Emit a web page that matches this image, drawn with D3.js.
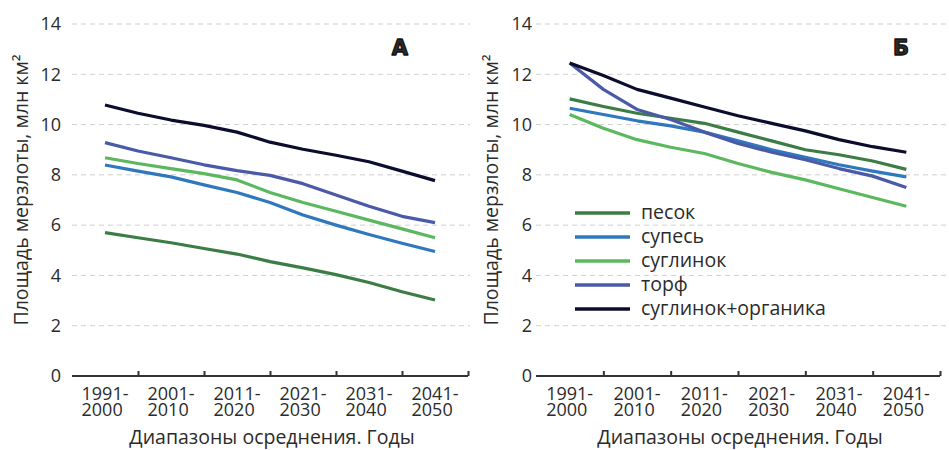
<!DOCTYPE html>
<html>
<head>
<meta charset="utf-8">
<script src="https://cdn.jsdelivr.net/npm/d3@7/dist/d3.min.js"></script>
<style>
  body { margin: 0; background: #fff; }
  text { font-family: "Open Sans", "Noto Sans", sans-serif; fill: #2b2b2b; }
</style>
</head>
<body>
<svg id="chart" width="949" height="450"></svg>
<script>
// Averaging periods (x categories), each label drawn on two lines
const periods = [
  ["1991-", "2000"], ["2001-", "2010"], ["2011-", "2020"],
  ["2021-", "2030"], ["2031-", "2040"], ["2041-", "2050"]
];
// Sample positions along the period axis (in period units, 0 = 1991-2000)
const samplePos = [0, 0.5, 1, 1.5, 2, 2.5, 3, 3.5, 4, 4.5, 5];
const yTicks = [0, 2, 4, 6, 8, 10, 12, 14];

const soils = ["песок", "супесь", "суглинок", "торф", "суглинок+органика"];
const soilColors = ["#3b7d45", "#2f78bd", "#5cb85f", "#4a5aa8", "#0c0c2c"];

// Panel А — permafrost area, mln km²
const aSand      = [5.70, 5.50, 5.30, 5.07, 4.85, 4.55, 4.30, 4.03, 3.72, 3.35, 3.02];
const aSandyLoam = [8.39, 8.15, 7.92, 7.60, 7.30, 6.90, 6.40, 6.00, 5.63, 5.28, 4.95];
const aLoam      = [8.68, 8.45, 8.25, 8.05, 7.80, 7.30, 6.90, 6.55, 6.20, 5.85, 5.50];
const aPeat      = [9.28, 8.95, 8.68, 8.40, 8.17, 7.98, 7.65, 7.20, 6.75, 6.35, 6.10];
const aLoamOrg   = [10.78, 10.45, 10.18, 9.97, 9.70, 9.30, 9.02, 8.78, 8.52, 8.15, 7.77];

// Panel Б — permafrost area, mln km²
const bSand      = [11.02, 10.72, 10.45, 10.25, 10.05, 9.70, 9.35, 9.00, 8.80, 8.55, 8.22];
const bSandyLoam = [10.65, 10.40, 10.15, 9.95, 9.70, 9.35, 9.00, 8.70, 8.40, 8.15, 7.92];
const bLoam      = [10.40, 9.85, 9.40, 9.10, 8.85, 8.45, 8.10, 7.80, 7.45, 7.10, 6.75];
const bPeat      = [12.45, 11.40, 10.60, 10.20, 9.70, 9.25, 8.90, 8.60, 8.25, 7.95, 7.50];
const bLoamOrg   = [12.45, 11.95, 11.40, 11.05, 10.70, 10.35, 10.05, 9.75, 9.40, 9.12, 8.90];

const yTitle = "Площадь мерзлоты, млн км²";
const xTitle = "Диапазоны осреднения. Годы";

const panels = [
  { letter: "А", x0: 72, x1: 468, gridEnd: 470, tickPad: 11, titleX: 21, letterX: 400,
    series: [aSand, aSandyLoam, aLoam, aPeat, aLoamOrg], legend: false },
  { letter: "Б", x0: 536, x1: 940, gridEnd: 946, tickPad: 4, titleX: 491, letterX: 901,
    series: [bSand, bSandyLoam, bLoam, bPeat, bLoamOrg], legend: true }
];

const svg = d3.select("#chart");
const y = d3.scaleLinear().domain([0, 14]).range([376, 24]);

panels.forEach(p => {
  const g = svg.append("g");
  const x = d3.scaleLinear().domain([-0.5, periods.length - 0.5]).range([p.x0, p.x1]);

  // dashed horizontal grid
  g.append("g").selectAll("line")
    .data(yTicks.filter(v => v > 0))
    .join("line")
    .attr("x1", p.x0).attr("x2", p.gridEnd)
    .attr("y1", d => y(d)).attr("y2", d => y(d))
    .attr("stroke", "#cfcfcf").attr("stroke-width", 1)
    .attr("stroke-dasharray", "5,4");

  // y tick labels
  const yAxis = g.append("g")
    .attr("transform", `translate(${p.x0},0)`)
    .call(d3.axisLeft(y).tickValues(yTicks).tickSize(0).tickPadding(p.tickPad));
  yAxis.select(".domain").remove();
  yAxis.selectAll("text")
    .style("font-family", '"Open Sans", sans-serif')
    .style("font-size", "18px").attr("fill", "#2b2b2b");

  // x baseline with upward ticks at period boundaries
  const boundaries = d3.range(periods.length).map(i => i + 0.5);
  const xAxis = g.append("g")
    .attr("transform", `translate(0,${y(0)})`)
    .call(d3.axisTop(x).tickValues(boundaries).tickSize(5).tickFormat(""));
  xAxis.select(".domain").attr("stroke", "#333").attr("stroke-width", 2.2)
    .attr("d", `M${p.x0},0H${p.x1}`);
  xAxis.selectAll(".tick line").attr("stroke", "#333").attr("stroke-width", 2);

  // period labels: one text per period, two left-aligned lines centred on the period
  g.append("g").selectAll("text")
    .data(periods)
    .join("text")
    .style("font-size", "18px")
    .each(function (d, i) {
      const t = d3.select(this);
      const first = t.append("tspan").attr("x", x(i)).attr("y", 400).text(d[0]);
      const w = first.node().getComputedTextLength();
      const left = x(i) - w / 2;
      first.attr("x", left);
      t.append("tspan").attr("x", left).attr("y", 416).text(d[1]);
    });

  // axis titles
  g.append("text")
    .attr("x", (p.x0 + p.x1) / 2 + 2).attr("y", 444)
    .attr("text-anchor", "middle").style("font-size", "19.5px")
    .text(xTitle);
  g.append("text")
    .attr("transform", `translate(${p.titleX},190) rotate(-90)`)
    .attr("text-anchor", "middle").attr("dy", "0.35em").style("font-size", "19.5px")
    .text(yTitle);

  // panel letter
  g.append("text")
    .attr("x", p.letterX).attr("y", 55)
    .attr("text-anchor", "middle")
    .style("font-family", '"DejaVu Sans", sans-serif')
    .style("font-weight", "bold").style("font-size", "21px")
    .attr("fill", "#111").attr("stroke", "#111").attr("stroke-width", 1.3)
    .attr("stroke-linejoin", "round")
    .text(p.letter);

  // series lines
  const line = d3.line()
    .x((d, i) => x(samplePos[i]))
    .y(d => y(d));
  g.append("g").selectAll("path")
    .data(p.series)
    .join("path")
    .attr("d", d => line(d))
    .attr("fill", "none")
    .attr("stroke", (d, i) => soilColors[i])
    .attr("stroke-width", 3.2)
    .attr("stroke-linejoin", "round");

  // legend
  if (p.legend) {
    const lg = g.append("g").selectAll("g")
      .data(soils)
      .join("g")
      .attr("transform", (d, i) => `translate(575,${213 + i * 24})`);
    lg.append("line")
      .attr("x1", 0).attr("x2", 55).attr("y1", 0).attr("y2", 0)
      .attr("stroke", (d, i) => soilColors[i]).attr("stroke-width", 3.5);
    lg.append("text")
      .attr("x", 66).attr("y", 0).attr("dy", "0.33em")
      .style("font-size", "19.5px")
      .text(d => d);
  }
});
</script>
</body>
</html>
